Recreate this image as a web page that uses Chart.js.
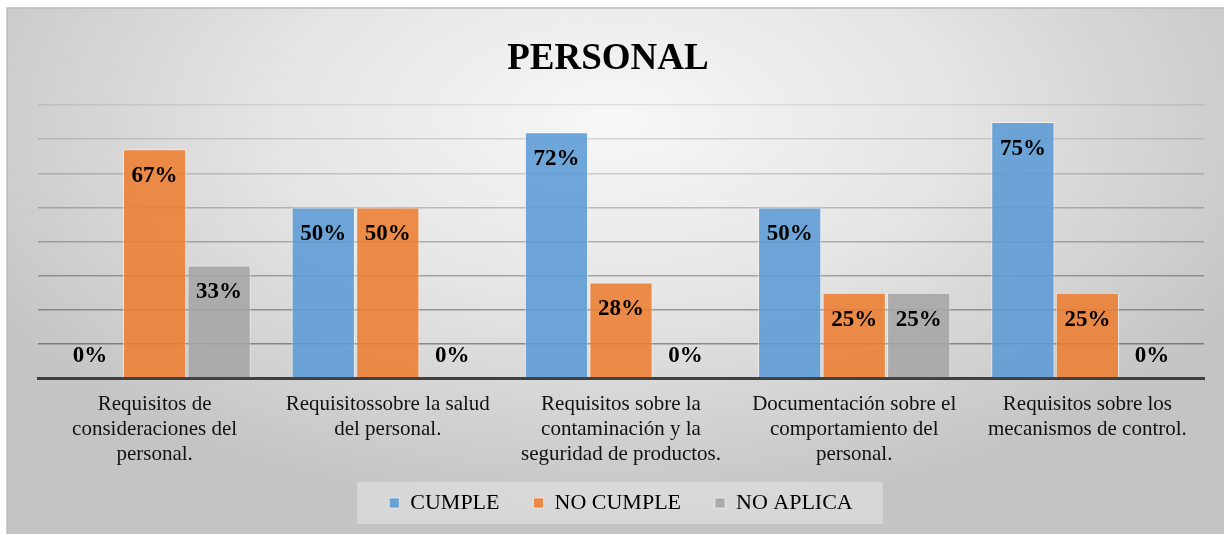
<!DOCTYPE html>
<html>
<head>
<meta charset="utf-8">
<script src="https://cdn.jsdelivr.net/npm/chart.js@4"></script>
<style>
html,body{margin:0;padding:0;background:#fff;}
#wrap{width:1224px;height:534px;position:relative;}
</style>
</head>
<body>
<div id="wrap"><canvas id="c"></canvas></div>
<script>
const categories = [
  ["Requisitos de", "consideraciones del", "personal."],
  ["Requisitossobre la salud", "del personal."],
  ["Requisitos sobre la", "contaminación y la", "seguridad de productos."],
  ["Documentación sobre el", "comportamiento del", "personal."],
  ["Requisitos sobre los", "mecanismos de control."]
];
const seriesNames = ["CUMPLE", "NO CUMPLE", "NO APLICA"];
const cumple = [0, 50, 72, 50, 75];
const noCumple = [67, 50, 28, 25, 25];
const noAplica = [33, 0, 0, 25, 0];
const titleText = "PERSONAL";

const SERIF = "'Liberation Serif', 'Times New Roman', serif";

const bgPlugin = {
  id: 'bg',
  afterLayout(chart) {
    const lg = chart.legend;
    if (lg) { lg.top -= 10; lg.bottom -= 10; }
    const tb = chart.titleBlock;
    if (tb) { tb.left -= 13; tb.right -= 13; }
  },
  beforeDraw(chart) {
    const ctx = chart.ctx;
    const W = chart.width, H = chart.height;
    ctx.save();
    ctx.fillStyle = '#ffffff';
    ctx.fillRect(0, 0, W, H);
    ctx.save();
    ctx.beginPath();
    ctx.rect(7, 8, W - 7, H - 8);
    ctx.clip();
    ctx.translate(612, 120);
    ctx.scale(1, 0.55);
    const g = ctx.createRadialGradient(0, 0, 0, 0, 0, 720);
    g.addColorStop(0, '#f7f7f7');
    g.addColorStop(0.45, '#e6e6e6');
    g.addColorStop(1, '#c4c4c4');
    ctx.fillStyle = g;
    ctx.fillRect(-1000, -1200, 2000, 2400);
    ctx.restore();
    ctx.strokeStyle = '#bdbdbd';
    ctx.lineWidth = 1.5;
    ctx.beginPath();
    ctx.moveTo(7, H);
    ctx.lineTo(7, 8);
    ctx.lineTo(W, 8);
    ctx.stroke();
    const lg = chart.legend;
    if (lg && lg.legendHitBoxes && lg.legendHitBoxes.length) {
      const hb = lg.legendHitBoxes;
      const x0 = hb[0].left - 32;
      const last = hb[hb.length - 1];
      const x1 = last.left + last.width + 30;
      const cy = hb[0].top + hb[0].height / 2;
      ctx.fillStyle = 'rgba(255,255,255,0.32)';
      ctx.fillRect(x0, cy - 21, x1 - x0, 42);
    }
    ctx.restore();
  }
};

const labelPlugin = {
  id: 'vlabels',
  afterDatasetsDraw(chart) {
    const ctx = chart.ctx;
    ctx.save();
    ctx.font = "bold 23px " + SERIF;
    ctx.fillStyle = '#000';
    ctx.textAlign = 'center';
    ctx.textBaseline = 'middle';
    chart.data.datasets.forEach((ds, di) => {
      const meta = chart.getDatasetMeta(di);
      meta.data.forEach((el, i) => {
        const v = ds.data[i];
        const y = v > 0 ? el.y + 27 : el.base - 22;
        ctx.fillText(v + '%', el.x, y);
      });
    });
    ctx.restore();
  }
};

const colors = ['rgba(91,155,213,0.88)', 'rgba(237,125,49,0.88)', 'rgba(165,165,165,0.88)'];
const seriesData = [cumple, noCumple, noAplica];

new Chart(document.getElementById('c'), {
  type: 'bar',
  data: {
    labels: categories,
    datasets: seriesNames.map((n, i) => ({
      label: n,
      data: seriesData[i],
      backgroundColor: colors[i],
      borderColor: 'rgba(255,255,255,0.55)',
      borderWidth: 1,
      categoryPercentage: 0.83,
      barPercentage: 0.98
    }))
  },
  options: {
    responsive: true,
    maintainAspectRatio: false,
    animation: false,
    devicePixelRatio: 1,
    layout: { padding: { left: 38, right: 20, top: 0, bottom: 0 } },
    plugins: {
      title: {
        display: true,
        text: titleText,
        color: '#000',
        font: { family: SERIF, size: 37, weight: 'bold', lineHeight: 1.2 },
        padding: { top: 36.8, bottom: 23.8 }
      },
      legend: {
        position: 'bottom',
        labels: {
          color: '#000',
          font: { family: SERIF, size: 22 },
          boxWidth: 10,
          boxHeight: 10,
          padding: 34
        }
      },
      tooltip: { enabled: false }
    },
    scales: {
      x: {
        grid: { display: false, drawTicks: false },
        border: { display: true, color: '#404040', width: 3 },
        ticks: {
          color: '#111',
          font: { family: SERIF, size: 21, lineHeight: 1.19 },
          maxRotation: 0,
          autoSkip: false,
          padding: 14
        },
        afterFit(scale) { scale.height = 90; }
      },
      y: {
        min: 0,
        max: 80,
        ticks: { display: false, stepSize: 10 },
        border: { display: false },
        grid: {
          drawTicks: false,
          lineWidth: 1.5,
          color: (c) => {
            const idx = c.index || 0;
            const a = 0.38 - (idx - 1) * 0.042;
            return 'rgba(0,0,0,' + Math.max(0.07, a).toFixed(3) + ')';
          }
        }
      }
    }
  },
  plugins: [bgPlugin, labelPlugin]
});
</script>
</body>
</html>
